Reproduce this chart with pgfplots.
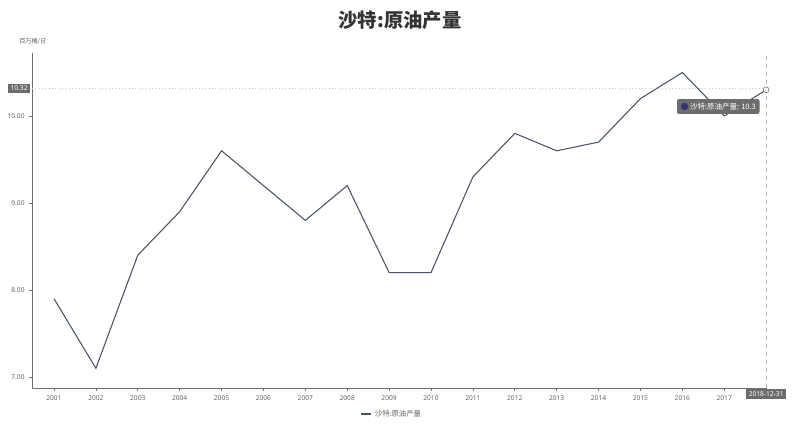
\documentclass[border=0pt]{standalone}
\usepackage{fontspec}
\setmainfont{Noto Sans}
\newfontfamily\cjk{Noto Sans CJK SC}
\newfontfamily\dejavu{DejaVu Sans}
\usepackage{pgfplots}
\pgfplotsset{compat=1.18}
\definecolor{linec}{RGB}{74,84,104}
\definecolor{axc}{RGB}{110,112,121}
\definecolor{txc}{RGB}{100,100,100}
\definecolor{tipbg}{RGB}{108,108,108}
\definecolor{dotc}{RGB}{52,50,125}
\begin{document}
\begin{tikzpicture}
\path[use as bounding box] (-24pt,-29.25pt) rectangle (573pt,291pt);
\begin{axis}[
  scale only axis, width=551.25pt, height=251.25pt,
  xmin=2000.475, xmax=2018.02, ymin=6.8736, ymax=10.724,
  axis x line*=bottom, axis y line*=left,
  axis line style={axc, line width=0.6pt},
  clip=false,
  xtick={2001,...,2017},
  ytick={7,8,9,10},
  tick align=outside, major tick length=2pt,
  tick style={axc, line width=0.5pt},
  /pgf/number format/assume math mode=true,
  xticklabel style={/pgf/number format/1000 sep={}},
  yticklabel style={/pgf/number format/.cd, fixed, fixed zerofill, precision=2},
  ticklabel style={font=\fontsize{5}{6}\selectfont, text=txc},
  legend style={at={(0.49,-0.078)}, anchor=center, draw=none, fill=none,
    font=\cjk\fontsize{5.5}{7}\selectfont, text=txc},
  legend image code/.code={\draw[linec, line width=1.2pt] (0pt,0pt) -- (7.5pt,0pt);},
]
\addplot[linec, line width=0.8pt, mark=none] coordinates {
(2001,7.9) (2002,7.1) (2003,8.4) (2004,8.9) (2005,9.6) (2006,9.2)
(2007,8.8) (2008,9.2) (2009,8.2) (2010,8.2) (2011,9.3) (2012,9.8)
(2013,9.6) (2014,9.7) (2015,10.2) (2016,10.5) (2017,10.0) (2018,10.3)
};
\addlegendentry{沙特:原油产量}
\addplot[only marks, mark=*, mark size=2.2pt, mark options={fill=white, draw=gray, line width=0.5pt}, forget plot] coordinates {(2018,10.3)};
\draw[dotted, gray!45, line width=0.5pt] (axis cs:2000.475,10.32) -- (axis cs:2018.02,10.32);
\draw[dashed, gray!60, line width=0.4pt] (axis cs:2018,6.8736) -- (axis cs:2018,10.724);
\node[fill=tipbg, text=white, font=\fontsize{5}{6}\selectfont, inner sep=1.6pt, anchor=east, xshift=-1.5pt] at (axis cs:2000.475,10.32) {10.32};
\node[fill=tipbg, text=white, font=\fontsize{5}{6}\selectfont, inner sep=1.8pt, anchor=north, yshift=-0.5pt] at (axis cs:2018,6.8736) {2018-12-31};
\node[fill=tipbg, text=white, rounded corners=1.5pt, font=\cjk\fontsize{5.6}{7}\selectfont, inner sep=2.8pt] at (axis cs:2016.857,10.109) {{\dejavu\fontsize{7}{7}\selectfont\color{dotc}●}\,沙特:原油产量: 10.3};
\node[font=\cjk\bfseries\fontsize{14.5}{16}\selectfont, text={rgb,255:red,51;green,51;blue,51}] at (axis description cs:0.5007,1.0985) {沙特:原油产量};
\node[font=\cjk\fontsize{4.6}{6}\selectfont, text=txc] at (axis description cs:0.001,1.033) {百万桶/日};
\end{axis}
\end{tikzpicture}
\end{document}
